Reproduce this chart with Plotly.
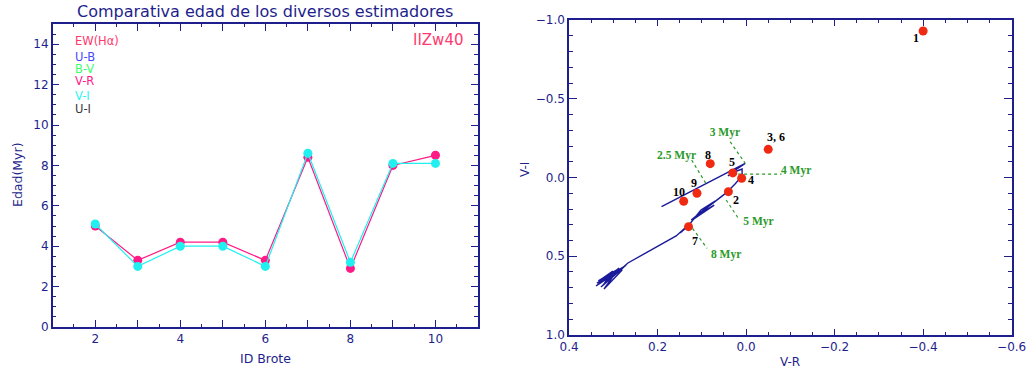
import plotly.graph_objects as go

# ---------------- data: left panel ----------------
brote_ids = [2, 3, 4, 5, 6, 7, 8, 9, 10]
edad_vr = [5.0, 3.3, 4.2, 4.2, 3.3, 8.4, 2.9, 8.0, 8.5]
edad_vi = [5.1, 3.0, 4.0, 4.0, 3.0, 8.6, 3.2, 8.1, 8.1]
legend_names = ["EW(H\u03b1)", "U-B", "B-V", "V-R", "V-I", "U-I"]
legend_colors = ["#ff3a6e", "#4848ff", "#3cff6a", "#ff1a86", "#2ef5f5", "#3a3a3a"]

# ---------------- data: right panel ----------------
knot_labels = ["1", "3, 6", "8", "5", "4", "2", "9", "10", "7"]
knot_vr = [-0.400, -0.050, 0.081, 0.030, 0.010, 0.040, 0.111, 0.141, 0.130]
knot_vi = [-0.930, -0.179, -0.088, -0.029, 0.005, 0.090, 0.100, 0.151, 0.312]

track_vr = [0.191, 0.002, 0.018, 0.041, 0.027, 0.009, 0.009, 0.025, 0.045,
            0.072, 0.113, 0.066, 0.106, 0.072, 0.118, 0.077, 0.124, 0.070, 0.102,
            0.131, 0.149, 0.138, 0.158,
            0.267, 0.328, 0.274, 0.337, 0.280, 0.321, 0.287, 0.339, 0.294, 0.330,
            0.301, 0.323, 0.271, 0.332, 0.278, 0.325, 0.292, 0.334]
track_vi = [0.185, -0.090, -0.060, -0.010, -0.035, -0.054, -0.010, 0.041, 0.098,
            0.156, 0.244, 0.143, 0.232, 0.175, 0.263, 0.162, 0.270, 0.150, 0.206,
            0.308, 0.352, 0.321, 0.371,
            0.543, 0.695, 0.562, 0.670, 0.587, 0.708, 0.575, 0.689, 0.606, 0.651,
            0.594, 0.683, 0.556, 0.676, 0.575, 0.689, 0.587, 0.657]

iso_labels = ["3 Myr", "2.5 Myr", "4 Myr", "5 Myr", "8 Myr"]
iso_vr0 = [0.036, 0.123, 0.018, 0.045, 0.121]
iso_vi0 = [-0.227, -0.111, -0.022, 0.143, 0.323]
iso_vr1 = [0.002, 0.091, -0.080, 0.015, 0.088]
iso_vi1 = [-0.090, 0.037, -0.022, 0.270, 0.450]
iso_text_vr = [0.048, 0.157, -0.113, -0.028, 0.045]
iso_text_vi = [-0.284, -0.137, -0.043, 0.281, 0.492]

# ---------------- styles ----------------
NAVY = "#1e1e8c"
SANS = "DejaVu Sans"
SERIF = "Liberation Serif"
label_shift = [(-7, -7), (8, 12), (-2, 9), (-1, 11), (9, -2), (8, -8), (-3, 10), (-5, 9), (6, -14)]

fig = go.Figure()

fig.add_trace(go.Scatter(x=brote_ids, y=edad_vr, mode="lines+markers",
                         line=dict(color="#ff1a86", width=1.2),
                         marker=dict(color="#ff1a86", size=9),
                         xaxis="x", yaxis="y", showlegend=False))
fig.add_trace(go.Scatter(x=brote_ids, y=edad_vi, mode="lines+markers",
                         line=dict(color="#22f0f0", width=1.2),
                         marker=dict(color="#22f0f0", size=9),
                         xaxis="x", yaxis="y", showlegend=False))

# right panel: track
fig.add_trace(go.Scatter(x=track_vr, y=track_vi, mode="lines",
                         line=dict(color="#1a1a9a", width=1.4),
                         xaxis="x2", yaxis="y2", showlegend=False))
# isochrone markers
for i in range(len(iso_labels)):
    fig.add_trace(go.Scatter(x=[iso_vr0[i], iso_vr1[i]], y=[iso_vi0[i], iso_vi1[i]],
                             mode="lines", line=dict(color="#2a9a2a", width=1.2, dash="3px,3px"),
                             xaxis="x2", yaxis="y2", showlegend=False))
fig.add_trace(go.Scatter(x=iso_text_vr, y=iso_text_vi, mode="text", text=iso_labels,
                         textfont=dict(family=SERIF, size=11.5, color="#2a9a2a", weight="bold"),
                         xaxis="x2", yaxis="y2", showlegend=False))
fig.add_trace(go.Scatter(x=knot_vr, y=knot_vi, mode="markers",
                         marker=dict(color="#f02a12", size=9),
                         xaxis="x2", yaxis="y2", showlegend=False))

annotations = []
for i, lab in enumerate(knot_labels):
    dx, dy = label_shift[i]
    annotations.append(dict(x=knot_vr[i], y=knot_vi[i], xref="x2", yref="y2", text=lab,
                            showarrow=False, xshift=dx, yshift=dy,
                            xanchor="center", yanchor="middle",
                            font=dict(family=SERIF, size=12, color="black", weight="bold")))


def paper_text(px, py, text, size, color, xanchor="center", angle=0):
    return dict(x=px / 1026, y=1 - py / 369, xref="paper", yref="paper", text=text,
                showarrow=False, xanchor=xanchor, yanchor="middle", textangle=angle,
                font=dict(family=SANS, size=size, color=color))


annotations.append(paper_text(265, 12, "Comparativa edad de los diversos estimadores", 16, NAVY))
leg_y = [41, 57, 69, 81, 96, 109]
for name, col, py in zip(legend_names, legend_colors, leg_y):
    annotations.append(paper_text(73, py, name, 11.5, col, xanchor="left"))
annotations.append(paper_text(465, 40, "IIZw40", 15, "#ff3a6e", xanchor="right"))
annotations.append(paper_text(17, 175, "Edad(Myr)", 12.5, NAVY, angle=-90))
annotations.append(paper_text(265, 358, "ID Brote", 12.5, NAVY))
annotations.append(paper_text(525, 170, "V-I", 12, NAVY, angle=-90))
annotations.append(paper_text(790, 362, "V-R", 12, NAVY))

axis_common = dict(showgrid=False, zeroline=False, showline=True, linecolor=NAVY, linewidth=1.5,
                   mirror="ticks", ticks="inside", tickcolor=NAVY, tickwidth=1,
                   ticklabeloverflow="allow",
                   tickfont=dict(family=SANS, size=12, color=NAVY))

tick_ids = [2, 3, 4, 5, 6, 7, 8, 9, 10]
tick_txt = ["2", "", "4", "", "6", "", "8", "", "10"]

fig.update_layout(
    width=1026, height=369,
    margin=dict(l=0, r=0, t=0, b=0, autoexpand=False),
    paper_bgcolor="white", plot_bgcolor="white",
    xaxis=dict(**axis_common, domain=[52.7 / 1026, 478 / 1026], range=[1, 11],
               tickvals=tick_ids, ticktext=tick_txt, ticklen=7,
               minor=dict(dtick=0.5, tick0=0, ticklen=3.5, ticks="inside", tickcolor=NAVY)),
    yaxis=dict(**axis_common, domain=[1 - 327 / 369, 1 - 24 / 369], range=[0, 15],
               dtick=2, tick0=0, ticklen=7,
               minor=dict(dtick=0.5, tick0=0, ticklen=4, ticks="inside", tickcolor=NAVY)),
    xaxis2=dict(**axis_common, domain=[569 / 1026, 1011.7 / 1026], range=[0.4001, -0.6001],
                dtick=0.2, tick0=0, tickformat=".1f", ticklen=6,
                minor=dict(dtick=0.05, tick0=0, ticklen=3, ticks="inside", tickcolor=NAVY),
                anchor="y2"),
    yaxis2=dict(**axis_common, domain=[1 - 335 / 369, 1 - 20 / 369], range=[1.0001, -1.0001],
                dtick=0.5, tick0=0, tickformat=".1f", ticklen=8,
                minor=dict(dtick=0.1, tick0=0, ticklen=4, ticks="inside", tickcolor=NAVY),
                anchor="x2"),
    annotations=annotations,
)

fig.write_html("out.html", config={"displayModeBar": False},
               post_script="document.body.style.margin='0';")
